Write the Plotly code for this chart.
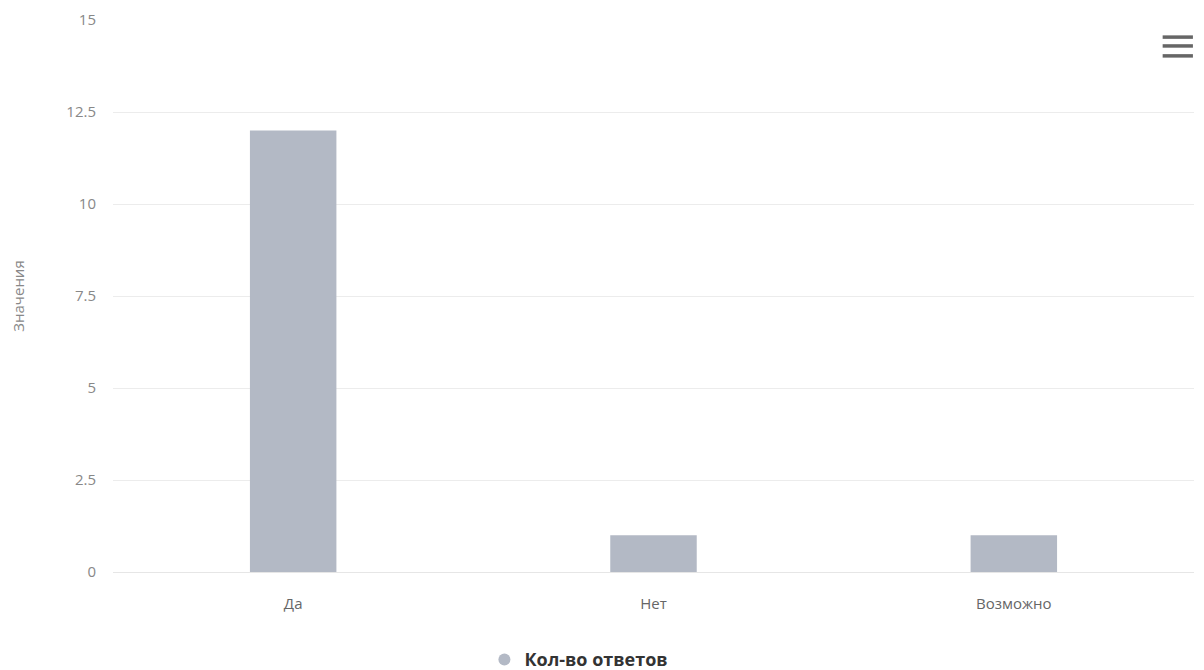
import plotly.graph_objects as go

categories = ["Да", "Нет", "Возможно"]
values = [12, 1, 1]
series_name = "Кол-во ответов"
y_ticks = [0, 2.5, 5, 7.5, 10, 12.5, 15]
y_tick_text = ["0", "2.5", "5", "7.5", "10", "12.5", "15"]

bar_color = "#b3b9c5"

fig = go.Figure()
fig.add_trace(go.Bar(
    x=categories, y=values, name=series_name,
    marker=dict(color=bar_color, line=dict(width=0)),
    width=0.24, showlegend=False,
))
# legend entry with a round symbol (no data)
fig.add_trace(go.Scatter(
    x=[None], y=[None], mode="markers", name=series_name,
    marker=dict(symbol="circle", size=16, color=bar_color),
    showlegend=True,
))

fig.update_layout(
    width=1204, height=670,
    margin=dict(l=105, r=18, t=12, b=106, autoexpand=False),
    paper_bgcolor="white", plot_bgcolor="white",
    font=dict(family="Open Sans, DejaVu Sans, sans-serif", color="#666666", size=13),
    showlegend=True,
    legend=dict(
        orientation="h", x=0.431, xanchor="center", y=-0.159, yanchor="middle",
        font=dict(size=18, color="#333333", family="Open Sans, DejaVu Sans, sans-serif",
                  weight="bold"),
        itemsizing="constant",
    ),
)
fig.update_xaxes(
    showgrid=False, showline=True, linecolor="#e6e6e6", linewidth=1,
    ticks="", tickfont=dict(size=15, color="#666666"), automargin=False,
    ticklabelstandoff=18,
)
fig.update_yaxes(
    range=[0, 15], tickvals=y_ticks, ticktext=y_tick_text,
    showgrid=True, gridcolor="#ececec", gridwidth=1, zeroline=False,
    tickfont=dict(size=15, color="#888888"), ticklabelstandoff=16,
    automargin=False,
    title=dict(text="Значения", font=dict(size=15, color="#888888"), standoff=38),
)

# menu (hamburger) icon
for yy in [0.969, 0.953, 0.935]:
    fig.add_shape(type="line", xref="paper", yref="paper",
                  x0=0.971, x1=0.999, y0=yy, y1=yy,
                  line=dict(color="#666666", width=3.5))

fig.write_html("out.html")
